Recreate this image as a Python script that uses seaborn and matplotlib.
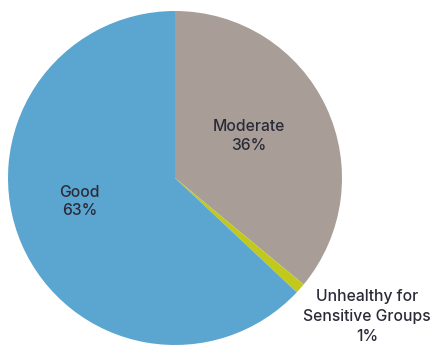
import matplotlib
matplotlib.use("Agg")
import matplotlib.pyplot as plt
import seaborn as sns

# Air quality day categories and their shares (%)
categories = ["Moderate", "Unhealthy for\nSensitive Groups", "Good"]
shares = [36, 1, 63]
colors = ["#a89e97", "#c0c91c", "#5ba6d0"]

sns.set_theme(style="white")
plt.rcParams["font.family"] = ["Inter", "DejaVu Sans"]

fig = plt.figure(figsize=(4.36, 3.53), dpi=100)
W, H = 436, 353
cx, cy, r = 175, 178, 167
ax = fig.add_axes([(cx - r) / W, (H - cy - r) / H, 2 * r / W, 2 * r / H])

ax.pie(shares, colors=sns.color_palette(colors), startangle=90,
       counterclock=False, radius=1.0,
       wedgeprops=dict(linewidth=0))
ax.set_xlim(-1, 1)
ax.set_ylim(-1, 1)
ax.set_aspect("auto")
ax.axis("off")

text_color = "#2b2b38"
label_pos = [(0.44, 0.25), (1.15, -0.83), (-0.57, -0.14)]
spacing = [1.3, 1.4, 1.3]
for name, val, (x, y), ls in zip(categories, shares, label_pos, spacing):
    ax.text(x, y, f"{name}\n{val}%", ha="center", va="center",
            fontsize=11.3, fontweight="medium", color=text_color,
            linespacing=ls, clip_on=False)

fig.savefig("out.png", dpi=100, facecolor="white")
